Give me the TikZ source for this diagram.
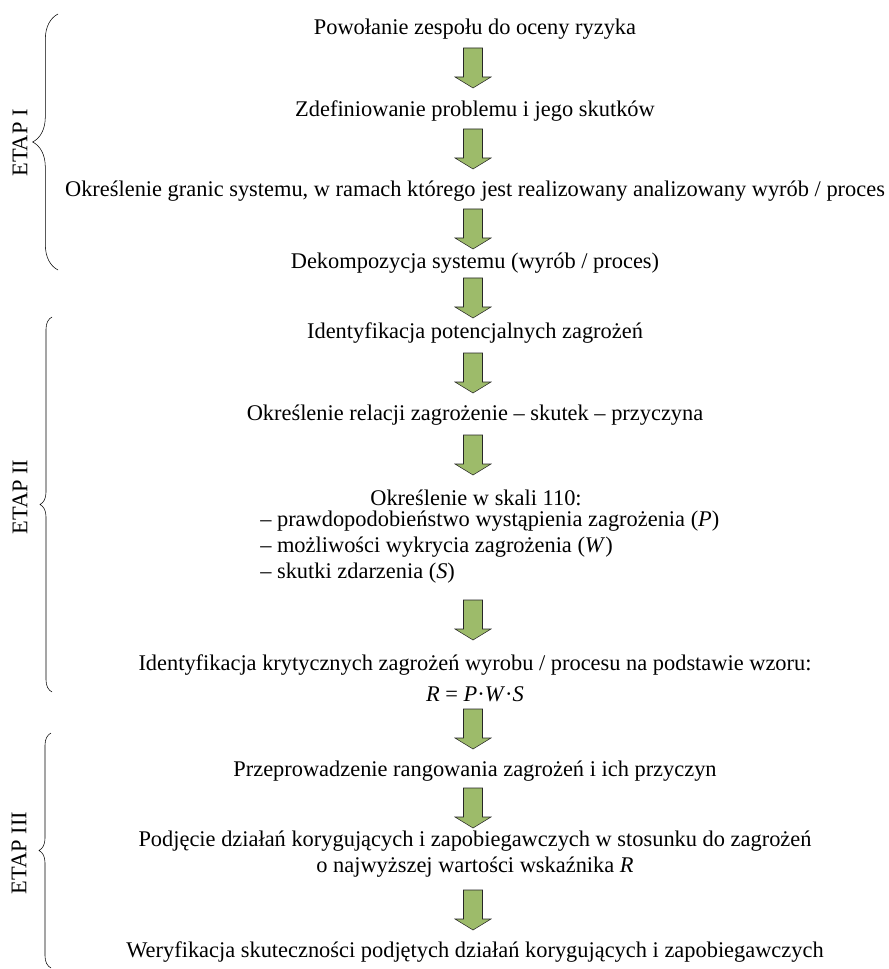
\documentclass[tikz,border=0pt]{standalone}
\usepackage{fontspec}
\setmainfont{Liberation Serif}
\usetikzlibrary{decorations.pathreplacing}

\definecolor{strzalkafill}{RGB}{157,187,106}

\tikzset{
    krok/.style={font=\fontsize{16.8}{19.2}\selectfont, inner sep=0pt, align=center},
    strzalka/.pic={
        \draw[draw=black!85, thin, fill=strzalkafill] (-9.5,-20) -- (9.5,-20) -- (9.5,9) -- (18,9)
            -- (0,20) -- (-18,9) -- (-9.5,9) -- cycle;
    },
    klamra/.style={decorate, decoration={brace, amplitude=#1}, thin},
    etap/.style={krok, rotate=90}
}

\begin{document}
\begin{tikzpicture}[x=0.75pt, y=-0.75pt]
                    \useasboundingbox (0,0) rectangle (888,969);

                    % kroki
                    \node[krok] (s1) at (475,29) {Powołanie zespołu do oceny ryzyka};
                    \node[krok] (s2) at (475,111) {Zdefiniowanie problemu i jego skutków};
                    \node[krok] (s3) at (475,191) {Określenie granic systemu, w ramach którego jest realizowany analizowany wyrób / proces};
                    \node[krok] (s4) at (475,263) {Dekompozycja systemu (wyrób / proces)};
                    \node[krok] (s5) at (475,333) {Identyfikacja potencjalnych zagrożeń};
                    \node[krok] (s6) at (475,415) {Określenie relacji zagrożenie – skutek – przyczyna};
                    \node[krok] (s7) at (476,498) {Określenie w skali 110:};
                    \node[krok, align=left, anchor=west] (s7a) at (260,547) {– prawdopodobieństwo wystąpienia zagrożenia (\textit{P})\\– możliwości wykrycia zagrożenia (\textit{W})\\– skutki zdarzenia (\textit{S})};
                    \node[krok] (s8) at (475,678) {Identyfikacja krytycznych zagrożeń wyrobu / procesu na podstawie wzoru:\\[4pt]\textit{R} = \textit{P}·\textit{W}·\textit{S}};
                    \node[krok] (s9) at (475,771) {Przeprowadzenie rangowania zagrożeń i ich przyczyn};
                    \node[krok] (s10) at (475,854) {Podjęcie działań korygujących i zapobiegawczych w stosunku do zagrożeń\\o najwyższej wartości wskaźnika \textit{R}};
                    \node[krok] (s11) at (475,952) {Weryfikacja skuteczności podjętych działań korygujących i zapobiegawczych};

                    % strzalki
                    \foreach \y in {68,149,229,298,373,455,620,729,808,910}
                        \pic at (473,\y) {strzalka};

                    % etapy
                    \draw[klamra=19pt] (58,270) -- (58,14);
                    \draw[klamra=9pt] (52,692) -- (52,317);
                    \draw[klamra=9pt] (51,968) -- (51,733);
                    \node[etap] (e1) at (20,143) {ETAP I};
                    \node[etap] (e2) at (20,497) {ETAP II};
                    \node[etap] (e3) at (19,853) {ETAP III};
                \end{tikzpicture}
\end{document}
